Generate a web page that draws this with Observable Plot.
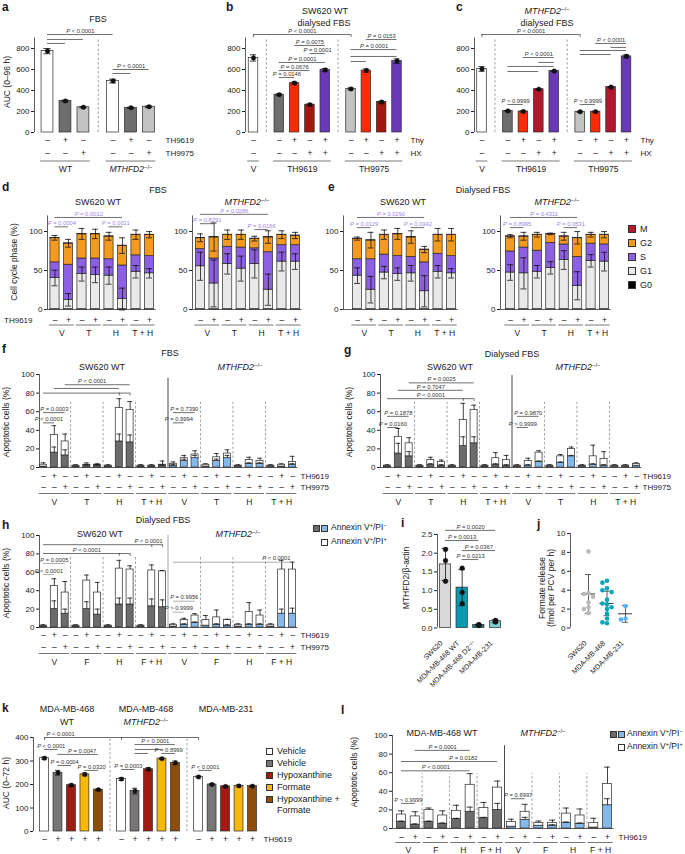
<!DOCTYPE html>
<html><head><meta charset="utf-8">
<script src="https://cdn.jsdelivr.net/npm/d3@7"></script>
<script src="https://cdn.jsdelivr.net/npm/@observablehq/plot@0.6"></script>
<style>
html,body{margin:0;padding:0;background:#fff;}
#page{position:relative;width:685px;height:854px;overflow:hidden;font-family:"Liberation Sans",Arial,Helvetica,sans-serif;color:#1a1a1a;background:#fff;}
#page svg{position:absolute;left:0;top:0;}
.t{position:absolute;white-space:nowrap;line-height:1.15;}
.t sup{font-size:65%;line-height:0;vertical-align:0.5em;}
.sw{position:absolute;box-sizing:border-box;border:0.8px solid #333;}
</style></head><body><div id="page"></div>
<script>
// ================= DATA =================
// panel a
const aGroups = ["WT", "MTHFD2−/−"];
const aAUC = [775, 300, 240, 490, 235, 245];
const aSEM = [25, 8, 6, 18, 6, 8];
const aTH9619 = ["–", "+", "–", "–", "+", "–"];
const aTH9975 = ["–", "–", "+", "–", "–", "+"];
const aStats = [
  {a: 0, b: 3, y: 933, label: "P < 0.0001"}, {a: 0, b: 2, y: 886}, {a: 0, b: 1, y: 848},
  {a: 3, b: 5, y: 600, label: "P < 0.0001"}, {a: 3, b: 4, y: 562}
];
// panel b
const bGroups = ["V", "TH9619", "TH9975"];
const bAUC = [710, 360, 470, 265, 595, 415, 590, 290, 680];
const bSEM = [30, 8, 10, 8, 15, 10, 15, 8, 22];
const bThy = ["–", "–", "+", "–", "+", "–", "+", "–", "+"];
const bHX = ["–", "–", "–", "+", "+", "–", "–", "+", "+"];
const bStats = [
  {a: 0, b: 5, y: 933, label: "P < 0.0001", ticks: [0, 5]},
  {a: 2, b: 4, y: 829, label: "P = 0.0075"}, {a: 3, b: 4, y: 752, label: "P = 0.0001"},
  {a: 1, b: 4, y: 667, label: "P = 0.0001"}, {a: 1, b: 3, y: 590, label: "P = 0.0676"},
  {a: 1, b: 2, y: 524, label: "P = 0.0146"},
  {a: 6, b: 8, y: 886, label: "P = 0.0153"}, {a: 5, b: 8, y: 790, label: "P = 0.0001"},
  {a: 5, b: 7, y: 724}, {a: 7, b: 8, y: 724}, {a: 5, b: 6, y: 676}
];
// panel c
const cAUC = [605, 205, 200, 412, 585, 197, 198, 432, 725];
const cSEM = [22, 6, 6, 6, 6, 6, 6, 6, 15];
const cStats = [
  {a: 0, b: 5, y: 933, label: "P < 0.0001", ticks: [0, 5]},
  {a: 6, b: 8, y: 848, label: "P < 0.0001"}, {a: 7, b: 8, y: 810}, {a: 5, b: 8, y: 781}, {a: 5, b: 7, y: 743},
  {a: 2, b: 4, y: 714, label: "P < 0.0001"}, {a: 3, b: 4, y: 667}, {a: 1, b: 4, y: 629}, {a: 1, b: 3, y: 581},
  {a: 1, b: 2, y: 267, label: "P > 0.9999"}, {a: 5, b: 6, y: 267, label: "P > 0.9999"}
];
// panels d, e (cell-cycle phase, %)
const cycGroups = ["V", "T", "H", "T + H"];
const cycTH9619 = ["–", "+", "–", "+", "–", "+", "–", "+"];
const cycPhases = ["M", "G2", "S", "G1", "G0"];
const cycG0 = [0.4, 0.4, 0.4, 0.4, 0.4, 0.4, 0.4, 0.4];
const cycM = [0.5, 0.5, 0.5, 0.5, 0.5, 0.5, 0.5, 0.5];
const dWT_G1 = [40, 12, 45, 44, 43, 13, 48, 46];
const dWT_S = [20, 45, 20, 21, 21, 43, 21, 22];
const dWT_G2 = [31, 27, 31, 31, 29, 25, 26, 27];
const dWT_errG1 = [10, 8, 9, 10, 11, 14, 8, 6];
const dWT_errTot = [3, 5, 7, 6, 5, 10, 6, 4];
const dKO_G1 = [55, 33, 58, 52, 58, 25, 61, 61];
const dKO_S = [22, 32, 22, 27, 20, 48, 21, 21];
const dKO_G2 = [14, 27, 15, 16, 12, 19, 13, 12];
const dKO_errG1 = [18, 30, 13, 16, 18, 20, 12, 10];
const dKO_errTot = [5, 18, 6, 6, 3, 8, 5, 4];
const eWT_G1 = [43, 25, 47, 45, 46, 23, 48, 46];
const eWT_S = [21, 39, 23, 23, 21, 37, 23, 22];
const eWT_G2 = [26, 24, 25, 28, 25, 16, 24, 27];
const eWT_errG1 = [10, 17, 8, 8, 10, 20, 8, 6];
const eWT_errTot = [2, 10, 6, 7, 8, 4, 8, 8];
const eKO_G1 = [47, 46, 48, 53, 63, 30, 62, 61];
const eKO_S = [27, 33, 27, 32, 20, 37, 22, 22];
const eKO_G2 = [19, 14, 20, 11, 10, 24, 11, 12];
const eKO_errG1 = [10, 20, 8, 8, 12, 18, 8, 12];
const eKO_errTot = [2, 5, 3, 1, 5, 8, 3, 4];
const dWT_stats = [{a: 0, b: 5, y: 118, label: "P = 0.0012"}, {a: 0, b: 1, y: 106, label: "P = 0.0004"}, {a: 4, b: 5, y: 106, label: "P = 0.0011"}];
const dKO_stats = [{a: 0, b: 5, y: 122, label: "P = 0.0286"}, {a: 0, b: 1, y: 110, label: "P = 0.8291"}, {a: 4, b: 5, y: 102.5, label: "P = 0.0166"}];
const eWT_stats = [{a: 0, b: 5, y: 118, label: "P = 0.0290"}, {a: 0, b: 1, y: 105, label: "P = 0.0129"}, {a: 4, b: 5, y: 105, label: "P = 0.0342"}];
const eKO_stats = [{a: 0, b: 5, y: 118, label: "P = 0.4311"}, {a: 0, b: 1, y: 105, label: "P = 0.8995"}, {a: 4, b: 5, y: 105, label: "P = 0.0531"}];
// panels f, g, h (apoptotic cells, %): Annexin V+/PI- (bottom) and total
const apoTH9619 = ["–", "+", "–", "–", "+", "–", "–", "+", "–", "–", "+", "–", "–", "+", "–", "–", "+", "–", "–", "+", "–", "–", "+", "–"];
const apoTH9975 = ["–", "–", "+", "–", "–", "+", "–", "–", "+", "–", "–", "+", "–", "–", "+", "–", "–", "+", "–", "–", "+", "–", "–", "+"];
const fgGroups = ["V", "T", "H", "T + H", "V", "T", "H", "T + H"];
const hGroups = ["V", "F", "H", "F + H", "V", "F", "H", "F + H"];
const fBottom = [1, 16, 13, 1, 2, 2, 1, 28, 27, 1, 1, 2, 2, 7, 10, 1, 7, 10, 1, 4, 4, 1, 1, 3];
const fTotal = [3, 35, 28, 2, 3, 3, 2, 64, 62, 2, 2, 3, 4, 10, 14, 3, 11, 15, 2, 8, 7, 2, 3, 6];
const fErrTot = [2, 10, 8, 1, 2, 1, 1, 10, 9, 1, 1, 4, 2, 3, 4, 1, 4, 4, 1, 3, 3, 1, 1, 6];
const fErrBot = [0, 6, 6, 0, 1, 1, 0, 8, 8, 0, 0, 1, 1, 2, 3, 0, 2, 3, 0, 1, 1, 0, 0, 1];
const fStats = [
  {a: 2, b: 8, y: 89, label: "P < 0.0001", lx: 4.5}, {a: 1, b: 7, y: 85}, {a: 0, b: 8, y: 80, ticks: [7, 8]},
  {a: 0, b: 2, y: 59, label: "P = 0.0003"}, {a: 0, b: 1, y: 48, label: "P < 0.0001"},
  {a: 12, b: 14, y: 59, label: "P = 0.7390"}, {a: 12, b: 13, y: 48, label: "P = 0.9994"}
];
const gBottom = [1, 15, 12, 1, 3, 2, 1, 23, 26, 1, 3, 2, 1, 2, 6, 1, 5, 12, 1, 3, 2, 1, 1, 2];
const gTotal = [2, 33, 26, 2, 8, 6, 2, 51, 62, 2, 10, 8, 2, 7, 16, 2, 12, 20, 2, 12, 9, 2, 2, 4];
const gErrTot = [1, 9, 6, 1, 3, 2, 1, 18, 5, 1, 6, 5, 1, 3, 2, 1, 2, 2, 1, 12, 8, 1, 1, 1];
const gErrBot = [0, 11, 5, 0, 1, 1, 0, 10, 7, 0, 1, 1, 0, 1, 1, 0, 1, 1, 0, 1, 1, 0, 0, 0];
const gStats = [
  {a: 2, b: 8, y: 91, label: "P = 0.0025"}, {a: 1, b: 7, y: 83, label: "P = 0.7047"},
  {a: 0, b: 8, y: 74, label: "P < 0.0001", ticks: [7, 8]},
  {a: 0, b: 2, y: 55, label: "P = 0.1878"}, {a: 0, b: 1, y: 43, label: "P = 0.0160"},
  {a: 12, b: 14, y: 55, label: "P = 0.9870"}, {a: 12, b: 13, y: 43, label: "P > 0.9999"}
];
const hBottom = [1, 20, 15, 1, 20, 14, 1, 25, 25, 1, 23, 22, 1, 3, 5, 2, 3, 2, 1, 3, 3, 1, 15, 15];
const hTotal = [2, 45, 38, 2, 51, 38, 2, 64, 63, 2, 62, 61, 3, 8, 13, 8, 11, 8, 3, 17, 13, 3, 63, 63];
const hErrTot = [1, 8, 12, 1, 6, 11, 1, 9, 4, 1, 6, 1, 1, 2, 2, 5, 8, 1, 1, 10, 6, 1, 10, 8];
const hErrBot = [0, 9, 5, 0, 8, 6, 0, 7, 7, 0, 8, 8, 0, 1, 1, 0, 1, 1, 0, 1, 1, 0, 5, 6];
const hStats = [
  {a: 0, b: 11, y: 90, label: "P < 0.0001", lx: 9.7, ticks: [10, 11]},
  {a: 0, b: 8, y: 80.4, label: "P < 0.0001", ticks: [7, 8]},
  {a: 0, b: 2, y: 69.6, label: "P = 0.0005", c: "#999"},
  {a: 0, b: 1, y: 57.6, label: "P < 0.0001", c: "#999"},
  {a: 12, b: 23, y: 71, label: "P < 0.0001", lx: 21.5, c: "#999"},
  {a: 12, b: 14, y: 28.6, label: "P = 0.9956", c: "#999"},
  {a: 12, b: 13, y: 16.6, label: "P > 0.9999", c: "#999"}
];
// panel i
const iCells = ["SW620", "MDA-MB-468 WT", "MDA-MB-468 D2−/−", "MDA-MB-231"];
const iMean = [1.70, 1.08, 0.08, 0.18];
const iSD = [0.43, 0.48, 0.02, 0.04];
const iReps = [[2.1, 1.8, 1.25], [1.6, 0.95, 0.65], [0.07, 0.08, 0.09], [0.16, 0.2, 0.19]];
const iStats = [
  {a: 0, b: 3, y: 2.61, label: "P = 0.0020"}, {a: 0, b: 2, y: 2.34, label: "P = 0.0013"},
  {a: 1, b: 3, y: 2.07, label: "P = 0.0367"}, {a: 1, b: 2, y: 1.83, label: "P = 0.0213"}
];
// panel j (formate release)
const jCells = ["SW620", "MDA-MB-468", "MDA-MB-231"];
const jSW620 = [8.1, 3.7, 3.6, 3.3, 2.7, 2.2, 2.0, 1.6];
const jMDA468 = [5.0, 4.8, 4.2, 4.0, 3.8, 3.0, 2.6, 2.5, 2.2, 2.0, 1.5, 1.0, 0.6, 0.5];
const jMDA231 = [2.3, 1.0, 0.9];
const jMean = [3.6, 2.6, 1.5];
const jSD = [2.05, 1.3, 0.9];
// panel k
const kLines = ["MDA-MB-468 WT", "MDA-MB-468 MTHFD2−/−", "MDA-MB-231"];
const kTreat = ["Vehicle", "Vehicle", "Hypoxanthine", "Formate", "Hypoxanthine + Formate"];
const kAUC = [312, 250, 197, 243, 178, 223, 172, 265, 310, 292, 232, 200, 192, 194, 193];
const kSEM = [5, 10, 5, 6, 4, 6, 12, 6, 4, 8, 4, 4, 4, 5, 4];
const kTH9619 = ["–", "+", "+", "+", "+", "–", "+", "+", "+", "+", "–", "+", "+", "+", "+"];
const kStats = [
  {a: 0, b: 10, y: 400, label: "P < 0.0001", lx: 1.2, ticks: [0, 5, 10]},
  {a: 0, b: 1, y: 349, label: "P < 0.0001"}, {a: 1, b: 4, y: 328, label: "P = 0.0047", lx: 2.8},
  {a: 1, b: 2, y: 281, label: "P = 0.0004"}, {a: 3, b: 4, y: 260, label: "P = 0.0320"},
  {a: 6, b: 9, y: 370, label: "P < 0.0001"}, {a: 6, b: 8, y: 349}, {a: 6, b: 7, y: 332},
  {a: 8, b: 9, y: 332, label: "P = 0.8999"},
  {a: 5, b: 6, y: 264, label: "P = 0.0003"}, {a: 10, b: 11, y: 260, label: "P < 0.0001"}
];
// panel l
const lGroups = ["V", "F", "H", "F + H", "V", "F", "H", "F + H"];
const lTH9619 = ["–", "+", "–", "+", "–", "+", "–", "+", "–", "+", "–", "+", "–", "+", "–", "+"];
const lBottom = [7, 4, 7, 5, 10, 18, 11, 20, 2, 9, 3, 3, 6, 5, 1, 25];
const lTotal = [15, 13, 20, 14, 19, 47, 22, 44, 7, 18, 6, 6, 16, 14, 6, 48];
const lErrTot = [4, 5, 2, 5, 6, 12, 6, 7, 3, 8, 2, 3, 6, 7, 5, 18];
const lErrBot = [1, 1, 1, 1, 1, 5, 1, 7, 0, 3, 0, 1, 1, 1, 0, 7];
const lStats = [
  {a: 1, b: 5, y: 84, label: "P = 0.0001"}, {a: 0, b: 7, y: 72, label: "P = 0.0182", lx: 4.5},
  {a: 0, b: 5, y: 62, label: "P < 0.0001"}, {a: 0, b: 1, y: 27, label: "P > 0.9999"},
  {a: 8, b: 9, y: 32, label: "P = 0.6997"}
];

// ================= STYLES =================
const FONT = '"Liberation Sans", Arial, Helvetica, sans-serif';
const C = {
  white: "#ffffff", grey: "#6e6e6e", lgrey: "#c3c3c3", red: "#ff2b06", dred: "#a4170f", crimson: "#b0182c", purple: "#6a3ab6",
  G0: "#000000", G1: "#e9e9e9", S: "#8c5fe3", G2: "#f39a1f", M: "#b51b2b",
  anxGrey: "#6b6b6b", anxBlue: "#86b8ea",
  iBars: ["#d9d9d9", "#0a9aad", "#1f7f8c", "#7fcfd0"],
  jDots: ["#b9b9b9", "#0ba5b7", "#5cb0f0"],
  kBars: ["#ffffff", "#777777", "#a01b12", "#f6b90a", "#8d4d0d"],
  pCyc: "#a184e6"
};
const aFill = [C.white, C.grey, C.lgrey, C.white, C.grey, C.lgrey];
const bFill = [C.white, C.grey, C.red, C.dred, C.purple, C.lgrey, C.red, C.dred, C.purple];
const cFill = [C.white, C.grey, C.red, C.crimson, C.purple, C.lgrey, C.red, C.crimson, C.purple];
const cycFill = {M: C.M, G2: C.G2, S: C.S, G1: C.G1, G0: C.G0};

// ================= HELPERS =================
const W = 685, H = 854;
const page = document.getElementById("page");

function grouped(sizes, gap) {
  const p = []; let x = 0;
  sizes.forEach(s => { for (let k = 0; k < s; k++) p.push(x++); x += gap; });
  return p;
}

function fix(svg) {
  svg.querySelectorAll("text").forEach(t => {
    if (t.children.length) return;
    const s = t.textContent;
    if (/^P [=<>]/.test(s)) {
      t.innerHTML = '<tspan font-style="italic">P</tspan>' + s.slice(1).replace(/</g, "&lt;").replace(/>/g, "&gt;");
    } else if (s.includes("−/−")) {
      const pre = s.split("−/−")[0];
      t.innerHTML = pre.replace("MTHFD2", '<tspan font-style="italic">MTHFD2</tspan>') + '<tspan dy="-0.4em" font-size="70%">−/−</tspan>';
    }
  });
}

function panel(cfg) {
  const {xl, xr, c0, cN, yt, yb, yd, pos} = cfg;
  const first = pos[0], last = pos[pos.length - 1];
  const u = (cN - c0) / (last - first);
  const xd = [first - (c0 - xl) / u, last + (xr - cN) / u];
  const w = cfg.w ?? 0.66, cw = cfg.cw ?? 0.2;
  const X = f => { const k = Math.floor(f), r = f - k; return r ? pos[k] + r * (pos[k + 1] - pos[k]) : pos[k]; };
  const y0 = () => yd[0];
  const tl = (yd[1] - yd[0]) * 0.03;
  const m = [];
  const dv = cfg.dividers || [];
  const dvx = d => (pos[d.after] + pos[d.after + 1]) / 2;
  m.push(Plot.ruleX(dv.filter(d => !d.solid), {x: dvx, y1: y0, y2: d => d.top ?? yd[1], stroke: "#8a8a8a", strokeWidth: 0.8, strokeDasharray: "2.5,2"}));
  m.push(Plot.ruleX(dv.filter(d => d.solid), {x: dvx, y1: y0, y2: d => d.top ?? yd[1], stroke: d => d.c ?? "#333", strokeWidth: 0.9}));
  m.push(Plot.ruleX([0], {x: () => xd[0], stroke: "#333", strokeWidth: 0.8}));
  if (cfg.base) m.push(Plot.ruleY([0], {y: y0, x1: () => xd[0], x2: () => pos[pos.length - 1] + w / 2 + 0.15, stroke: "#333", strokeWidth: 0.8}));
  if (cfg.bars) m.push(Plot.rect(cfg.bars, {x1: d => X(d.i) - w / 2, x2: d => X(d.i) + w / 2, y1: "y1", y2: "y2", fill: "fill", stroke: "#2a2a2a", strokeWidth: 0.7}));
  const E = (cfg.errs || []).filter(d => d.e > 0);
  m.push(Plot.ruleX(E, {x: d => X(d.i), y1: d => d.up ? d.y : d.y - d.e, y2: d => d.y + d.e, stroke: "#111", strokeWidth: 0.8}));
  m.push(Plot.ruleY(E, {y: d => d.y + d.e, x1: d => X(d.i) - cw, x2: d => X(d.i) + cw, stroke: "#111", strokeWidth: 0.8}));
  m.push(Plot.ruleY(E.filter(d => !d.up), {y: d => d.y - d.e, x1: d => X(d.i) - cw, x2: d => X(d.i) + cw, stroke: "#111", strokeWidth: 0.8}));
  if (cfg.extra) m.push(...cfg.extra(X, u));
  if (cfg.dots) m.push(Plot.dot(cfg.dots, {x: d => X(d.i) + (d.off || 0) / u, y: "y", r: cfg.r ?? 2.2, fill: d => d.fill ?? "#111", stroke: cfg.dotStroke ?? "#111", strokeWidth: 0.4}));
  const B = cfg.brackets || [];
  m.push(Plot.ruleY(B, {y: "y", x1: d => X(d.a), x2: d => X(d.b), stroke: d => d.c ?? "#4a4a4a", strokeWidth: 0.8}));
  const BT = B.flatMap(d => (d.ticks || []).map(t => ({x: X(t), y: d.y, c: d.c})));
  m.push(Plot.ruleX(BT, {x: "x", y1: "y", y2: d => d.y - tl, stroke: d => d.c ?? "#4a4a4a", strokeWidth: 0.8}));
  m.push(Plot.text(B.filter(d => d.label), {x: d => d.lx != null ? X(d.lx) : (X(d.a) + X(d.b)) / 2, y: "y", dy: -3.6, text: "label", fontSize: 5.8, fill: cfg.pColor ?? "#333"}));
  (cfg.rows || []).forEach(r => {
    m.push(Plot.text(r.v.map((s, i) => ({s, i})), {x: d => X(d.i), y: y0, dy: r.dy, text: "s", fontSize: 8.5, fill: "#1a1a1a"}));
    if (r.label) m.push(Plot.text([r.label], {x: () => r.left ? xd[0] : xd[1], y: y0, dy: r.dy, dx: r.dx, text: d => d, textAnchor: r.left ? "end" : "start", fontSize: 8, fill: "#1a1a1a"}));
  });
  if (cfg.groups) {
    const gw = cfg.gw ?? 0.4;
    m.push(Plot.ruleY(cfg.groups, {y: y0, x1: d => X(d.s) - gw, x2: d => X(d.e) + gw, dy: cfg.lineDy, stroke: "#555", strokeWidth: 0.8}));
    m.push(Plot.text(cfg.groups, {x: d => (X(d.s) + X(d.e)) / 2, y: y0, dy: cfg.groupDy, text: "label", fontSize: cfg.gfs ?? 8.5, fill: "#1a1a1a"}));
  }
  if (cfg.rot) m.push(Plot.text(cfg.rot, {x: d => X(d.i), y: y0, dx: cfg.rotDx ?? -3, dy: cfg.rotDy ?? 10, text: "label", rotate: -45, textAnchor: "end", fontSize: 7.2, fill: "#1a1a1a"}));
  const svg = Plot.plot({
    width: W, height: H,
    marginLeft: xl, marginRight: W - xr, marginTop: yt, marginBottom: H - yb,
    x: {domain: xd, axis: null},
    y: {domain: yd, ticks: cfg.ticks, tickFormat: cfg.tf, tickSize: 3, tickPadding: 2, label: null, axis: "left"},
    color: {type: "identity"},
    style: {background: "transparent", overflow: "visible", fontFamily: FONT, fontSize: "8px", color: "#222", maxWidth: "none"},
    marks: m
  });
  fix(svg);
  page.appendChild(svg);
}

function T(html, x, y, o = {}) {
  const d = document.createElement("div");
  d.className = "t";
  d.innerHTML = html;
  const a = o.a || "m";
  const tx = a === "m" ? "-50%" : a === "e" ? "-100%" : "0";
  d.style.left = x + "px"; d.style.top = y + "px";
  d.style.fontSize = (o.s || 9) + "px";
  d.style.transform = `translate(${tx},-50%)` + (o.r ? ` rotate(${o.r}deg)` : "");
  if (o.b) d.style.fontWeight = "bold";
  page.appendChild(d);
}
function SW(x, y, color, s = 7) {
  const d = document.createElement("div");
  d.className = "sw";
  Object.assign(d.style, {left: x + "px", top: (y - s / 2) + "px", width: s + "px", height: s + "px", background: color});
  page.appendChild(d);
}
const KO = '<i>MTHFD2</i><sup>−/−</sup>';

// ================= PANELS =================
function aucPanel(geo, vals, sem, fill, stats, gap, sizes, rows, groups) {
  panel({...geo, yt: 37.5, yb: 132, yd: [0, 900], ticks: [0, 200, 400, 600, 800], pos: grouped(sizes, gap),
    bars: vals.map((v, i) => ({i, y1: 0, y2: v, fill: fill[i]})),
    errs: vals.map((v, i) => ({i, y: v, e: sem[i]})),
    dots: vals.map((v, i) => ({i, y: v})), r: 2.3,
    brackets: stats, rows, groups, lineDy: 28.5, groupDy: 36.5, gw: 0.38});
}
aucPanel({xl: 34, xr: 158, c0: 47, cN: 148.5, w: 0.66, dividers: [{after: 2}]}, aAUC, aSEM, aFill, aStats, 0.65, [3, 3],
  [{label: "TH9619", v: aTH9619, dy: 8, dx: 7}, {label: "TH9975", v: aTH9975, dy: 21, dx: 7}],
  [{s: 0, e: 2, label: aGroups[0]}, {s: 3, e: 5, label: aGroups[1]}]);
aucPanel({xl: 245, xr: 404, c0: 253, cN: 396.5, w: 0.62, dividers: [{after: 0}, {after: 4}]}, bAUC, bSEM, bFill, bStats, 0.68, [1, 4, 4],
  [{label: "Thy", v: bThy, dy: 8, dx: 6}, {label: "HX", v: bHX, dy: 21, dx: 6}],
  [{s: 0, e: 0, label: bGroups[0]}, {s: 1, e: 4, label: bGroups[1]}, {s: 5, e: 8, label: bGroups[2]}]);
aucPanel({xl: 474, xr: 634, c0: 481.5, cN: 626, w: 0.62, dividers: [{after: 0}, {after: 4}]}, cAUC, cSEM, cFill, cStats, 0.68, [1, 4, 4],
  [{label: "Thy", v: bThy, dy: 8, dx: 6}, {label: "HX", v: bHX, dy: 21, dx: 6}],
  [{s: 0, e: 0, label: bGroups[0]}, {s: 1, e: 4, label: bGroups[1]}, {s: 5, e: 8, label: bGroups[2]}]);

function cyclePanel(geo, G1, S, G2, eG1, eTot, stats, showLabel) {
  const bars = [], errs = [];
  for (let i = 0; i < 8; i++) {
    const segs = [[cycG0[i], cycFill.G0], [G1[i], cycFill.G1], [S[i], cycFill.S], [G2[i], cycFill.G2], [cycM[i], cycFill.M]];
    let acc = 0;
    segs.forEach(([v, f]) => { bars.push({i, y1: acc, y2: acc + v, fill: f}); acc += v; });
    errs.push({i, y: cycG0[i] + G1[i], e: eG1[i]});
    errs.push({i, y: acc, e: eTot[i]});
  }
  panel({...geo, yt: 215.4, yb: 309, yd: [0, 120], ticks: [0, 50, 100], pos: d3.range(8), w: 0.68, cw: 0.22,
    bars, errs, brackets: stats, pColor: C.pCyc, base: true,
    rows: [{label: showLabel ? "TH9619" : null, v: cycTH9619, dy: 11, dx: -15, left: true}],
    groups: cycGroups.map((g, k) => ({s: 2 * k, e: 2 * k + 1, label: g})), lineDy: 15.5, groupDy: 23.5, gw: 0.42});
}
cyclePanel({xl: 47, xr: 155, c0: 54.5, cN: 149}, dWT_G1, dWT_S, dWT_G2, dWT_errG1, dWT_errTot, dWT_stats, true);
cyclePanel({xl: 192, xr: 300, c0: 200, cN: 295}, dKO_G1, dKO_S, dKO_G2, dKO_errG1, dKO_errTot, dKO_stats, false);
cyclePanel({xl: 343, xr: 457, c0: 357, cN: 451}, eWT_G1, eWT_S, eWT_G2, eWT_errG1, eWT_errTot, eWT_stats, false);
cyclePanel({xl: 500, xr: 610, c0: 510, cN: 604}, eKO_G1, eKO_S, eKO_G2, eKO_errG1, eKO_errTot, eKO_stats, false);

function apoPanel(geo, bottom, total, eTot, eBot, nFirst, extra) {
  const bars = [], errs = [];
  bottom.forEach((b, i) => {
    bars.push({i, y1: 0, y2: b, fill: i < nFirst ? C.anxGrey : C.anxBlue});
    bars.push({i, y1: b, y2: total[i], fill: C.white});
    errs.push({i, y: b, e: eBot[i], up: true});
    errs.push({i, y: total[i], e: eTot[i], up: true});
  });
  panel({...geo, yd: [0, 100], ticks: [0, 20, 40, 60, 80, 100], pos: d3.range(bottom.length), bars, errs, base: true, cw: 0.22, ...extra});
}
const div24 = (dash, solid) => [
  {after: 2, top: dash}, {after: 5, top: dash}, {after: 8, top: dash}, {after: 11, solid: true, top: solid},
  {after: 14, top: dash}, {after: 17, top: dash}, {after: 20, top: dash}];
const groups24 = lbl => lbl.map((g, k) => ({s: 3 * k, e: 3 * k + 2, label: g}));
apoPanel({xl: 39, xr: 297, c0: 43, cN: 292, yt: 374, yb: 467, w: 0.65}, fBottom, fTotal, fErrTot, fErrBot, 12,
  {dividers: div24(70, 96), brackets: fStats,
   rows: [{label: "TH9619", v: apoTH9619, dy: 9, dx: 3}, {label: "TH9975", v: apoTH9975, dy: 20, dx: 3}],
   groups: groups24(fgGroups), lineDy: 26, groupDy: 35, gw: 0.4});
apoPanel({xl: 380, xr: 639, c0: 387, cN: 636, yt: 374, yb: 467, w: 0.65}, gBottom, gTotal, gErrTot, gErrBot, 12,
  {dividers: div24(70, 99), brackets: gStats,
   rows: [{label: "TH9619", v: apoTH9619, dy: 9, dx: 3}, {label: "TH9975", v: apoTH9975, dy: 20, dx: 3}],
   groups: groups24(fgGroups), lineDy: 26, groupDy: 35, gw: 0.4});
apoPanel({xl: 39, xr: 297, c0: 43, cN: 292, yt: 535, yb: 627, w: 0.65}, hBottom, hTotal, hErrTot, hErrBot, 12,
  {dividers: [{after: 2, top: 78}, {after: 5, top: 78}, {after: 8, top: 78}, {after: 11, solid: true, top: 100, c: "#999"},
              {after: 14, top: 78}, {after: 17, top: 78}, {after: 20, top: 78}], brackets: hStats,
   rows: [{label: "TH9619", v: apoTH9619, dy: 8, dx: 3}, {label: "TH9975", v: apoTH9975, dy: 20, dx: 3}],
   groups: groups24(hGroups), lineDy: 26, groupDy: 35, gw: 0.4});

// panel i
panel({xl: 437, xr: 502, c0: 445, cN: 495, yt: 534, yb: 627.5, yd: [0, 2.5], ticks: [0, 0.5, 1, 1.5, 2, 2.5], tf: ".1f",
  pos: [0, 1, 2, 3], w: 0.68,
  bars: iMean.map((v, i) => ({i, y1: 0, y2: v, fill: C.iBars[i]})),
  errs: iMean.map((v, i) => ({i, y: v, e: iSD[i]})),
  dots: iReps.flatMap((r, i) => r.map(y => ({i, y}))), r: 2.4,
  brackets: iStats, rot: iCells.map((label, i) => ({i, label})), rotDx: -4, rotDy: 14});

// panel j
function swarm(vals, r) {
  const placed = [], cands = [0, -1, 1, -2, 2];
  return vals.map(v => {
    const y = v * 9.4;
    for (const c of cands) {
      const x = c * r * 2;
      if (placed.every(p => Math.hypot(p.x - x, p.y - y) >= 2 * r - 0.3)) { placed.push({x, y}); return x; }
    }
    return 0;
  });
}
const jAll = [jSW620, jMDA468, jMDA231];
const jDots = jAll.flatMap((vals, i) => { const off = swarm(vals, 2.3); return vals.map((y, k) => ({i, y, off: off[k], fill: C.jDots[i]})); });
panel({xl: 570, xr: 636, c0: 588, cN: 625, yt: 533, yb: 627.5, yd: [0, 10], ticks: [0, 2, 4, 6, 8, 10], pos: [0, 1, 2],
  dots: jDots, r: 2.3, dotStroke: "none",
  extra: (X) => {
    const s = jMean.map((m, i) => ({i, m, sd: jSD[i]}));
    return [
      Plot.ruleX(s, {x: d => X(d.i), y1: d => d.m - d.sd, y2: d => d.m + d.sd, stroke: "#333", strokeWidth: 0.8}),
      Plot.ruleY(s, {y: d => d.m + d.sd, x1: d => X(d.i) - 0.17, x2: d => X(d.i) + 0.17, stroke: "#333", strokeWidth: 0.8}),
      Plot.ruleY(s, {y: d => d.m - d.sd, x1: d => X(d.i) - 0.17, x2: d => X(d.i) + 0.17, stroke: "#333", strokeWidth: 0.8}),
      Plot.ruleY(s, {y: "m", x1: d => X(d.i) - 0.38, x2: d => X(d.i) + 0.38, stroke: "#333", strokeWidth: 1})
    ];
  },
  rot: jCells.map((label, i) => ({i, label})), rotDx: -3, rotDy: 14});

// panel k
panel({xl: 33, xr: 258, c0: 44, cN: 252, yt: 737, yb: 831, yd: [0, 400], ticks: [0, 100, 200, 300, 400], pos: grouped([5, 5, 5], 0.72), w: 0.66,
  bars: kAUC.map((v, i) => ({i, y1: 0, y2: v, fill: C.kBars[i % 5]})),
  errs: kAUC.map((v, i) => ({i, y: v, e: kSEM[i]})),
  dots: kAUC.map((v, i) => ({i, y: v})), r: 2.2,
  dividers: [{after: 4}, {after: 9}], brackets: kStats,
  rows: [{label: "TH9619", v: kTH9619, dy: 8, dx: 5}]});

// panel l
apoPanel({xl: 392, xr: 612, c0: 401, cN: 607, yt: 735, yb: 828, w: 0.66}, lBottom, lTotal, lErrTot, lErrBot, 8,
  {dividers: [{after: 1, top: 59}, {after: 3, top: 59}, {after: 5, top: 59}, {after: 7, solid: true, top: 89},
              {after: 9, top: 59}, {after: 11, top: 59}, {after: 13, top: 59}], brackets: lStats,
   rows: [{label: "TH9619", v: lTH9619, dy: 9, dx: 6}],
   groups: lGroups.map((g, k) => ({s: 2 * k, e: 2 * k + 1, label: g})), lineDy: 14, groupDy: 21.5, gw: 0.42});

// ================= TEXT OVERLAYS =================
[["a", 2, 8], ["b", 226, 8], ["c", 456, 8], ["d", 2, 188], ["e", 328, 188], ["f", 2, 350], ["g", 344, 351],
 ["h", 2, 526], ["i", 401, 524], ["j", 537, 525], ["k", 2, 709], ["l", 341, 711]].forEach(([s, x, y]) => T(s, x, y, {a: "s", s: 12, b: 1}));
T("FBS", 98, 19);
T("SW620 WT", 325, 11); T("dialysed FBS", 324, 23);
T(KO, 547, 11); T("dialysed FBS", 547, 23);
T("AUC (0–96 h)", 8, 82, {r: -90, s: 8.5});
T("FBS", 158, 190); T("SW620 WT", 98, 202); T(KO, 247, 202);
T("Dialysed FBS", 483, 190); T("SW620 WT", 403, 202); T(KO, 557, 202);
T("Cell cycle phase (%)", 15, 262, {r: -90, s: 8.5});
cycPhases.forEach((p, k) => { SW(628, 229 + 14 * k, cycFill[p], 8); T(p, 640, 229 + 14 * k, {a: "s", s: 9}); });
T("FBS", 170, 353); T("SW620 WT", 102, 367); T(KO, 240, 367);
T("Apoptotic cells (%)", 7, 422, {r: -90, s: 8.5});
T("Dialysed FBS", 512, 354); T("SW620 WT", 450, 367); T(KO, 578, 367);
T("Apoptotic cells (%)", 350, 422, {r: -90, s: 8.5});
T("Dialysed FBS", 163, 520); T("SW620 WT", 100, 534); T(KO, 238, 534);
T("Apoptotic cells (%)", 7, 583, {r: -90, s: 8.5});
const anx = ["Annexin V<sup>+</sup>/PI<sup>−</sup>", "Annexin V<sup>+</sup>/PI<sup>+</sup>"];
SW(313, 528, C.anxGrey); SW(321, 528, C.anxBlue); SW(321, 542, C.white);
T(anx[0], 331, 528, {a: "s", s: 8.5}); T(anx[1], 331, 542, {a: "s", s: 8.5});
T("MTHFD2/β-actin", 407, 578, {r: -90, s: 8.5});
T("Formate release", 543, 588, {r: -90, s: 8.5}); T("(fmol per PCV per h)", 552, 588, {r: -90, s: 8.5});
T("MDA-MB-468", 67, 709); T("WT", 67, 722); T("MDA-MB-468", 146, 709); T(KO, 146, 722); T("MDA-MB-231", 226, 709);
T("AUC (0–72 h)", 7, 783, {r: -90, s: 8.5});
kTreat.forEach((t, k) => { SW(266, 751 + 12 * k, C.kBars[k]); });
T("Vehicle", 277, 751, {a: "s"}); T("Vehicle", 277, 763, {a: "s"}); T("Hypoxanthine", 277, 775, {a: "s"});
T("Formate", 277, 787, {a: "s"}); T("Hypoxanthine +", 277, 799, {a: "s"}); T("Formate", 277, 810, {a: "s"});
T("MDA-MB-468 WT", 442, 733); T(KO, 543, 733);
T("Apoptotic cells (%)", 355, 772, {r: -90, s: 8.5});
SW(610, 734, C.anxGrey); SW(618, 734, C.anxBlue); SW(618, 747, C.white);
T(anx[0], 627, 734, {a: "s", s: 8.5}); T(anx[1], 627, 747, {a: "s", s: 8.5});
</script></body></html>
